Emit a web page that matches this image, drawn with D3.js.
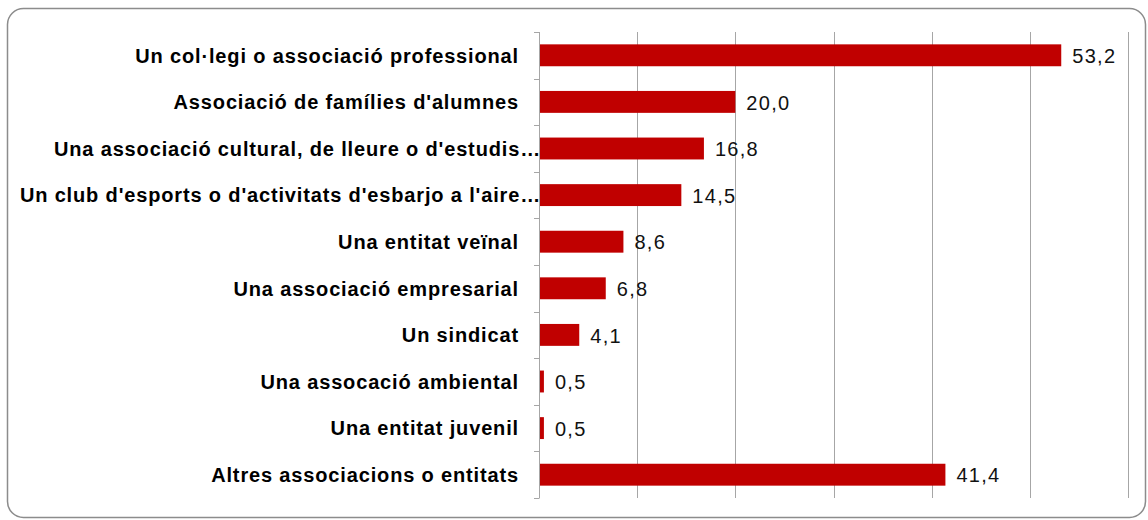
<!DOCTYPE html>
<html>
<head>
<meta charset="utf-8">
<script src="https://cdn.jsdelivr.net/npm/d3@7"></script>
<style>
  body { margin: 0; background: #fff; }
  svg { display: block; font-family: "Liberation Sans", Arial, sans-serif; }
</style>
</head>
<body>
<div id="chart"></div>
<script>
// Categories (top to bottom) and their percentages
const categories = [
  "Un col·legi o associació professional",
  "Associació de famílies d'alumnes",
  "Una associació cultural, de lleure o d'estudis…",
  "Un club d'esports o d'activitats d'esbarjo a l'aire…",
  "Una entitat veïnal",
  "Una associació empresarial",
  "Un sindicat",
  "Una assocació ambiental",
  "Una entitat juvenil",
  "Altres associacions o entitats"
];
const values = [53.2, 20.0, 16.8, 14.5, 8.6, 6.8, 4.1, 0.5, 0.5, 41.4];
const xTicks = [0, 10, 20, 30, 40, 50, 60];

const W = 1148, H = 520;
const margin = { top: 32, right: 20, bottom: 22, left: 539 };
const height = H - margin.top - margin.bottom;

const svg = d3.select("#chart").append("svg")
  .attr("width", W)
  .attr("height", H);

// outer rounded frame
svg.append("rect")
  .attr("x", 7.5).attr("y", 8.5)
  .attr("width", 1138).attr("height", 509)
  .attr("rx", 16).attr("ry", 16)
  .attr("fill", "#fff")
  .attr("stroke", "#8c8c8c")
  .attr("stroke-width", 1.5);

const g = svg.append("g")
  .attr("transform", "translate(" + margin.left + "," + margin.top + ")");

const x = d3.scaleLinear().domain([0, 60]).range([0, 589]);
const y = d3.scaleBand().domain(categories).range([0, height]).paddingInner(0.53).paddingOuter(0.265);
const yTicks = d3.scaleBand().domain(categories).range([0, height]);

// vertical gridlines
g.selectAll(".grid")
  .data(xTicks.slice(1))
  .enter().append("line")
  .attr("x1", d => Math.round(x(d)) + 0.5)
  .attr("x2", d => Math.round(x(d)) + 0.5)
  .attr("y1", 0)
  .attr("y2", height)
  .attr("stroke", "#a6a6a6")
  .attr("stroke-width", 1);

// bars
g.selectAll(".bar")
  .data(values)
  .enter().append("rect")
  .attr("x", 0)
  .attr("y", (d, i) => y(categories[i]))
  .attr("width", d => x(d))
  .attr("height", y.bandwidth())
  .attr("fill", "#c00000");

// category axis line and ticks
g.append("line")
  .attr("x1", 0.5).attr("x2", 0.5)
  .attr("y1", 0).attr("y2", height)
  .attr("stroke", "#a6a6a6");
g.selectAll(".ytick")
  .data(categories.concat(["end"]))
  .enter().append("line")
  .attr("x1", -5).attr("x2", 0.5)
  .attr("y1", (d, i) => Math.round(i * yTicks.step()) + 0.5)
  .attr("y2", (d, i) => Math.round(i * yTicks.step()) + 0.5)
  .attr("stroke", "#a6a6a6");

// category labels
g.selectAll(".label")
  .data(categories)
  .enter().append("text")
  .attr("x", d => d.endsWith("…") ? 2 : -20)
  .attr("y", d => y(d) + y.bandwidth() / 2)
  .attr("dy", "0.36em")
  .attr("text-anchor", "end")
  .style("font-size", "20px")
  .style("letter-spacing", "0.85px")
  .style("font-weight", "bold")
  .style("fill", "#000")
  .text(d => d);

// value labels
const fmt = v => d3.format(".1f")(v).replace(".", ",");
g.selectAll(".value")
  .data(values)
  .enter().append("text")
  .attr("x", d => x(d) + 11)
  .attr("y", (d, i) => y(categories[i]) + y.bandwidth() / 2)
  .attr("dy", "0.38em")
  .style("font-size", "20px")
  .style("letter-spacing", "1.3px")
  .style("fill", "#111")
  .text(d => fmt(d));
</script>
</body>
</html>
